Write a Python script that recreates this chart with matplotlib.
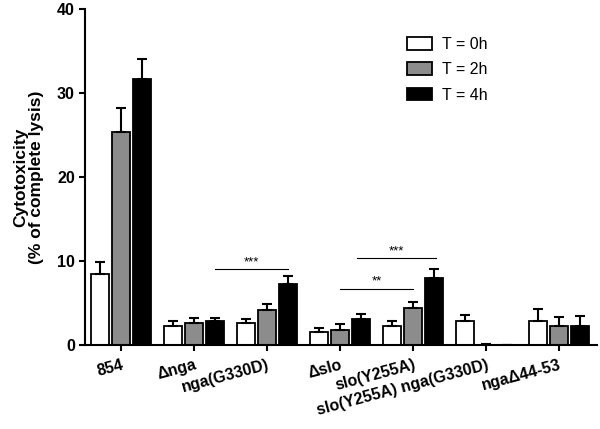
import numpy as np
import matplotlib.pyplot as plt

plt.rcParams['font.family'] = ['Liberation Sans', 'DejaVu Sans']

# groups and values (% of complete lysis)
groups = ["854", "\u0394nga", "nga(G330D)", "\u0394slo", "slo(Y255A)",
          "slo(Y255A) nga(G330D)", "nga\u039444-53"]
t0 = [8.5, 2.3, 2.6, 1.5, 2.2, 2.8, 2.9]
t0_err = [1.4, 0.5, 0.45, 0.55, 0.65, 0.8, 1.4]
t2 = [25.4, 2.6, 4.2, 1.8, 4.45, 0.0, 2.3]
t2_err = [2.8, 0.6, 0.7, 0.65, 0.7, 0.1, 1.0]
t4 = [31.7, 2.8, 7.2, 3.1, 8.0, 0.0, 2.3]
t4_err = [2.3, 0.35, 1.05, 0.6, 1.0, 0.0, 1.15]

series = [("T = 0h", t0, t0_err, "white"),
          ("T = 2h", t2, t2_err, "#8c8c8c"),
          ("T = 4h", t4, t4_err, "black")]

fig = plt.figure(figsize=(6, 4.29), dpi=100)
ax = fig.add_axes([0.142, 0.196, 0.853, 0.783])

x = np.arange(len(groups))
w = 0.245
off = 0.29
for i, (lab, vals, err, col) in enumerate(series):
    pos = x + (i - 1) * off
    ax.bar(pos, vals, w, color=col, edgecolor="black", linewidth=1.3,
           label=lab, zorder=2)
    ax.errorbar(pos, vals, yerr=[np.zeros(len(err)), err], fmt="none",
                ecolor="black", elinewidth=1.5, capsize=3.5, capthick=1.5,
                zorder=3)

# significance bars
sig = [(1.29, 2.29, 9.0, "***"), (3.0, 4.0, 6.7, "**"), (3.23, 4.32, 10.3, "***")]
for x1, x2, y, s in sig:
    ax.plot([x1, x2], [y, y], color="black", linewidth=0.8)
    ax.text((x1 + x2) / 2, y + 0.15, s, ha="center", va="bottom", fontsize=9.5)

ax.set_xlim(-0.49, 6.52)
ax.set_ylim(0, 40)
ax.set_yticks([0, 10, 20, 30, 40])
ax.set_xticks(x)
ax.set_xticklabels(groups, rotation=15, ha="right", rotation_mode="anchor",
                   fontweight="bold", fontsize=11.5)
for t in ax.get_yticklabels():
    t.set_fontweight("bold")
    t.set_fontsize(11.5)
ax.set_ylabel("Cytotoxicity\n(% of complete lysis)", fontweight="bold",
              fontsize=12.5, labelpad=9, linespacing=1.1)
ax.spines["top"].set_visible(False)
ax.spines["right"].set_visible(False)
ax.spines["left"].set_linewidth(1.5)
ax.spines["bottom"].set_linewidth(1.5)
ax.tick_params(width=1.5, length=4)
ax.tick_params(axis="x", pad=5)

ax.legend(loc="upper left", bbox_to_anchor=(0.6, 0.96), frameon=False,
          fontsize=11.5, handlelength=1.6, handleheight=0.85,
          labelspacing=0.65, handletextpad=0.6)

plt.savefig("out.png", dpi=100)
